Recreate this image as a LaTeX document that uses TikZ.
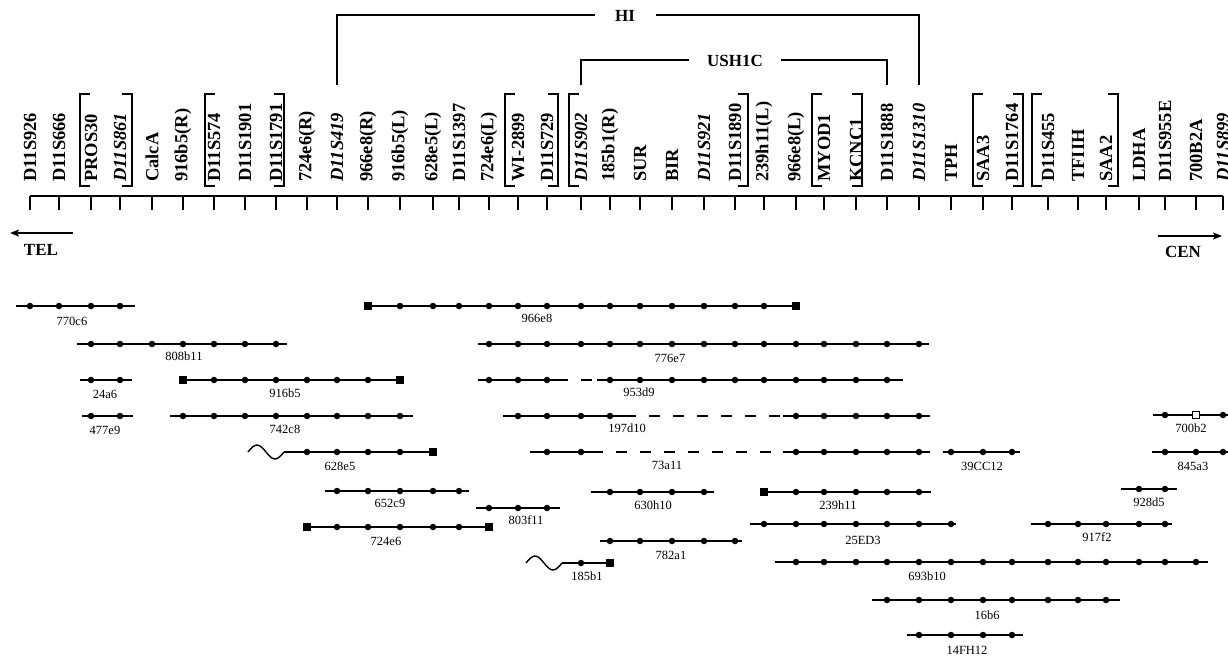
\documentclass[tikz,border=0pt]{standalone}
\usepackage{fontspec}
\setmainfont{Liberation Serif}
\usetikzlibrary{arrows.meta}
\tikzset{
 cline/.style={line width=1.4pt},
 dashl/.style={line width=1.4pt, dash pattern=on 11pt off 13pt},
 dot/.style={circle, fill=black, inner sep=0pt, minimum size=6.5pt},
 sqr/.style={rectangle, fill=black, inner sep=0pt, minimum size=8.5pt},
 osqr/.style={rectangle, draw=black, fill=white, line width=1.2pt, inner sep=0pt, minimum size=7.5pt},
 clab/.style={font=\fontsize{12.5}{13}\selectfont, inner sep=0pt},
 hlab/.style={rotate=90, anchor=west, inner sep=0pt, font=\bfseries\fontsize{18.5}{18.5}\selectfont},
 axisl/.style={line width=1.3pt},
 brk/.style={line width=1.2pt},
 big/.style={font=\bfseries\fontsize{17}{17}\selectfont, inner sep=0pt},
}
\newcommand\mkctg[5]{%
 \coordinate (#1s) at (#3,#2);
 \coordinate (#1e) at (#4,#2);
 \draw[cline] (#1s) -- (#1e);
 \foreach \k in {#5} {\node[dot] (#1d\k) at (t\k |- #1s) {};}
}
\begin{document}
\begin{tikzpicture}[x=1pt,y=-1pt]
\useasboundingbox (0,0) rectangle (1228,656);
\fill[white] (0,0) rectangle (1228,656);
% axis
\foreach \x [count=\i] in {30,59,91,120,152,183,214,245,276,307,337,368,400,433,459,489,518,547,581,610,640,672,704,735,764,796,824,856,887,919,951,983,1012,1048,1078,1106,1139,1165,1196,1223}
 {\coordinate (t\i) at (\x,196);}
\draw[axisl] (t1) -- (t40);
\foreach \i in {1,...,40} {\draw[axisl] (t\i) -- ++(0,14);}
% header labels
\coordinate (hb) at (0,182);
\foreach \i/\lab in {1/D11S926, 2/D11S666, 3/PROS30, 4/\textit{D11S861}, 5/CalcA, 6/916b5(R), 7/D11S574, 8/D11S1901, 9/D11S1791, 10/724e6(R), 11/\textit{D11S419}, 12/966e8(R), 13/916b5(L), 14/628e5(L), 15/D11S1397, 16/724e6(L), 17/WI-2899, 18/D11S729, 19/\textit{D11S902}, 20/185b1(R), 21/SUR, 22/BIR, 23/\textit{D11S921}, 24/D11S1890, 25/239h11(L), 26/966e8(L), 27/MYOD1, 28/KCNC1, 29/D11S1888, 30/\textit{D11S1310}, 31/TPH, 32/SAA3, 33/D11S1764, 34/D11S455, 35/TFIIH, 36/SAA2, 37/LDHA, 38/D11S955E, 39/700B2A, 40/\textit{D11S899}}
 {\node[hlab] (h\i) at (t\i |- hb) {\lab};}
% brackets
\foreach \a/\b in {80/132, 205/284, 505/558, 569/748, 812/862, 973/1023, 1032/1118}
 {\draw[brk] (\a+10,94) -| (\a,186) -- ++(10,0);
  \draw[brk] (\b-10,94) -| (\b,186) -- ++(-10,0);}
% HI and USH1C
\node[big] (hi) at (625,16) {HI};
\draw[brk] (337,85) |- (595,15);
\draw[brk] (656,15) -| (919,85);
\node[big] (ush) at (735,61) {USH1C};
\draw[brk] (581,85) |- (689,60);
\draw[brk] (781,60) -| (887,85);
% TEL / CEN
\coordinate (tel1) at (73,233); \coordinate (tel2) at (10,233);
\draw[line width=1.3pt,-{Stealth[length=9pt,width=7pt,inset=2pt]}] (tel1) -- (tel2);
\node[big] (tel) at (41,250) {TEL};
\coordinate (cen1) at (1158,236); \coordinate (cen2) at (1222,236);
\draw[line width=1.3pt,-{Stealth[length=9pt,width=7pt,inset=2pt]}] (cen1) -- (cen2);
\node[big] (cen) at (1183,252) {CEN};
% contigs
\mkctg{c770c6}{306}{16}{135}{1,2,3,4}
\node[clab] (l770c6) at (72,321) {770c6};
\mkctg{c966e8}{306}{368}{796}{13,14,15,16,17,18,19,20,21,22,23,24,25}
\node[sqr] at (t12 |- c966e8s) {}; \node[sqr] at (t26 |- c966e8s) {};
\node[clab] (l966e8) at (537,318) {966e8};
\mkctg{c808b11}{344}{77}{287}{3,4,5,6,7,8,9}
\node[clab] (l808b11) at (184,356) {808b11};
\mkctg{c776e7}{344}{478}{929}{16,17,18,19,20,21,22,23,24,25,26,27,28,29,30}
\node[clab] (l776e7) at (670,358) {776e7};
\mkctg{c24a6}{380}{80}{132}{3,4}
\node[clab] (l24a6) at (105,394) {24a6};
\mkctg{c916b5}{380}{183}{400}{7,8,9,10,11,12}
\node[sqr] at (t6 |- c916b5s) {}; \node[sqr] at (t13 |- c916b5s) {};
\node[clab] (l916b5) at (285,393) {916b5};
% 953d9
\coordinate (c953d9s) at (478,380); \coordinate (c953d9m1) at (557,380);
\coordinate (c953d9m2) at (597,380); \coordinate (c953d9e) at (903,380);
\draw[cline] (c953d9s) -- (c953d9m1); \draw[dashl] (c953d9m1) -- (c953d9m2);
\draw[cline] (c953d9m2) -- (c953d9e);
\foreach \k in {16,17,18,20,21,22,23,24,25,26,27,28,29} {\node[dot] at (t\k |- c953d9s) {};}
\node[clab] (l953d9) at (639,392) {953d9};
\mkctg{c477e9}{416}{82}{133}{3,4}
\node[clab] (l477e9) at (105,430) {477e9};
\mkctg{c742c8}{416}{170}{413}{6,7,8,9,10,11,12,13}
\node[clab] (l742c8) at (285,429) {742c8};
% 197d10
\coordinate (c197s) at (503,416); \coordinate (c197m1) at (625,416);
\coordinate (c197m2) at (783,416); \coordinate (c197e) at (930,416);
\draw[cline] (c197s) -- (c197m1); \draw[dashl] (c197m1) -- (c197m2);
\draw[cline] (c197m2) -- (c197e);
\foreach \k in {17,18,19,20,26,27,28,29,30} {\node[dot] at (t\k |- c197s) {};}
\node[clab] (l197d10) at (627,428) {197d10};
% 700b2
\mkctg{c700b2}{415}{1153}{1230}{38,40}
\node[osqr] at (t39 |- c700b2s) {};
\node[clab] (l700b2) at (1191,428) {700b2};
% 628e5
\coordinate (c628w) at (248,452);
\mkctg{c628e5}{452}{284}{433}{10,11,12,13}
\draw[cline] (c628w) sin ++(9,-7) cos ++(9,7) sin ++(9,7) cos ++(9,-7);
\node[sqr] at (t14 |- c628e5s) {};
\node[clab] (l628e5) at (340,466) {628e5};
% 73a11
\coordinate (c73s) at (530,452); \coordinate (c73m1) at (592,452);
\coordinate (c73m2) at (783,452); \coordinate (c73e) at (930,452);
\draw[cline] (c73s) -- (c73m1); \draw[dashl] (c73m1) -- (c73m2);
\draw[cline] (c73m2) -- (c73e);
\foreach \k in {18,19,26,27,28,29,30} {\node[dot] at (t\k |- c73s) {};}
\node[clab] (l73a11) at (667,465) {73a11};
\mkctg{c39CC12}{452}{943}{1020}{31,32,33}
\node[clab] (l39CC12) at (982,466) {39CC12};
\mkctg{c845a3}{452}{1152}{1230}{38,39,40}
\node[clab] (l845a3) at (1193,466) {845a3};
\mkctg{c652c9}{491}{325}{469}{11,12,13,14,15}
\node[clab] (l652c9) at (390,503) {652c9};
\mkctg{c630h10}{492}{591}{714}{20,21,22,23}
\node[clab] (l630h10) at (653,505) {630h10};
\mkctg{c239h11}{492}{764}{931}{26,27,28,29,30}
\node[sqr] at (t25 |- c239h11s) {};
\node[clab] (l239h11) at (838,505) {239h11};
\mkctg{c928d5}{489}{1121}{1177}{37,38}
\node[clab] (l928d5) at (1149,502) {928d5};
\mkctg{c803f11}{508}{476}{560}{16,17,18}
\node[clab] (l803f11) at (526,520) {803f11};
\mkctg{c724e6}{527}{307}{489}{11,12,13,14,15}
\node[sqr] at (t10 |- c724e6s) {}; \node[sqr] at (t16 |- c724e6s) {};
\node[clab] (l724e6) at (386,541) {724e6};
\mkctg{c25ED3}{524}{750}{956}{25,26,27,28,29,30,31}
\node[clab] (l25ED3) at (863,540) {25ED3};
\mkctg{c917f2}{524}{1031}{1172}{34,35,36,37,38}
\node[clab] (l917f2) at (1097,537) {917f2};
\mkctg{c782a1}{541}{600}{742}{20,21,22,23,24}
\node[clab] (l782a1) at (671,555) {782a1};
% 185b1
\coordinate (c185w) at (526,563);
\mkctg{c185b1}{563}{562}{610}{19}
\draw[cline] (c185w) sin ++(9,-7) cos ++(9,7) sin ++(9,7) cos ++(9,-7);
\node[sqr] at (t20 |- c185b1s) {};
\node[clab] (l185b1) at (587,576) {185b1};
\mkctg{c693b10}{562}{775}{1208}{26,27,28,29,30,31,32,33,34,35,36,37,38,39}
\node[clab] (l693b10) at (927,576) {693b10};
\mkctg{c16b6}{600}{872}{1120}{29,30,31,32,33,34,35,36}
\node[clab] (l16b6) at (987,615) {16b6};
\mkctg{c14FH12}{635}{907}{1023}{30,31,32,33}
\node[clab] (l14FH12) at (967,650) {14FH12};
\end{tikzpicture}
\end{document}
